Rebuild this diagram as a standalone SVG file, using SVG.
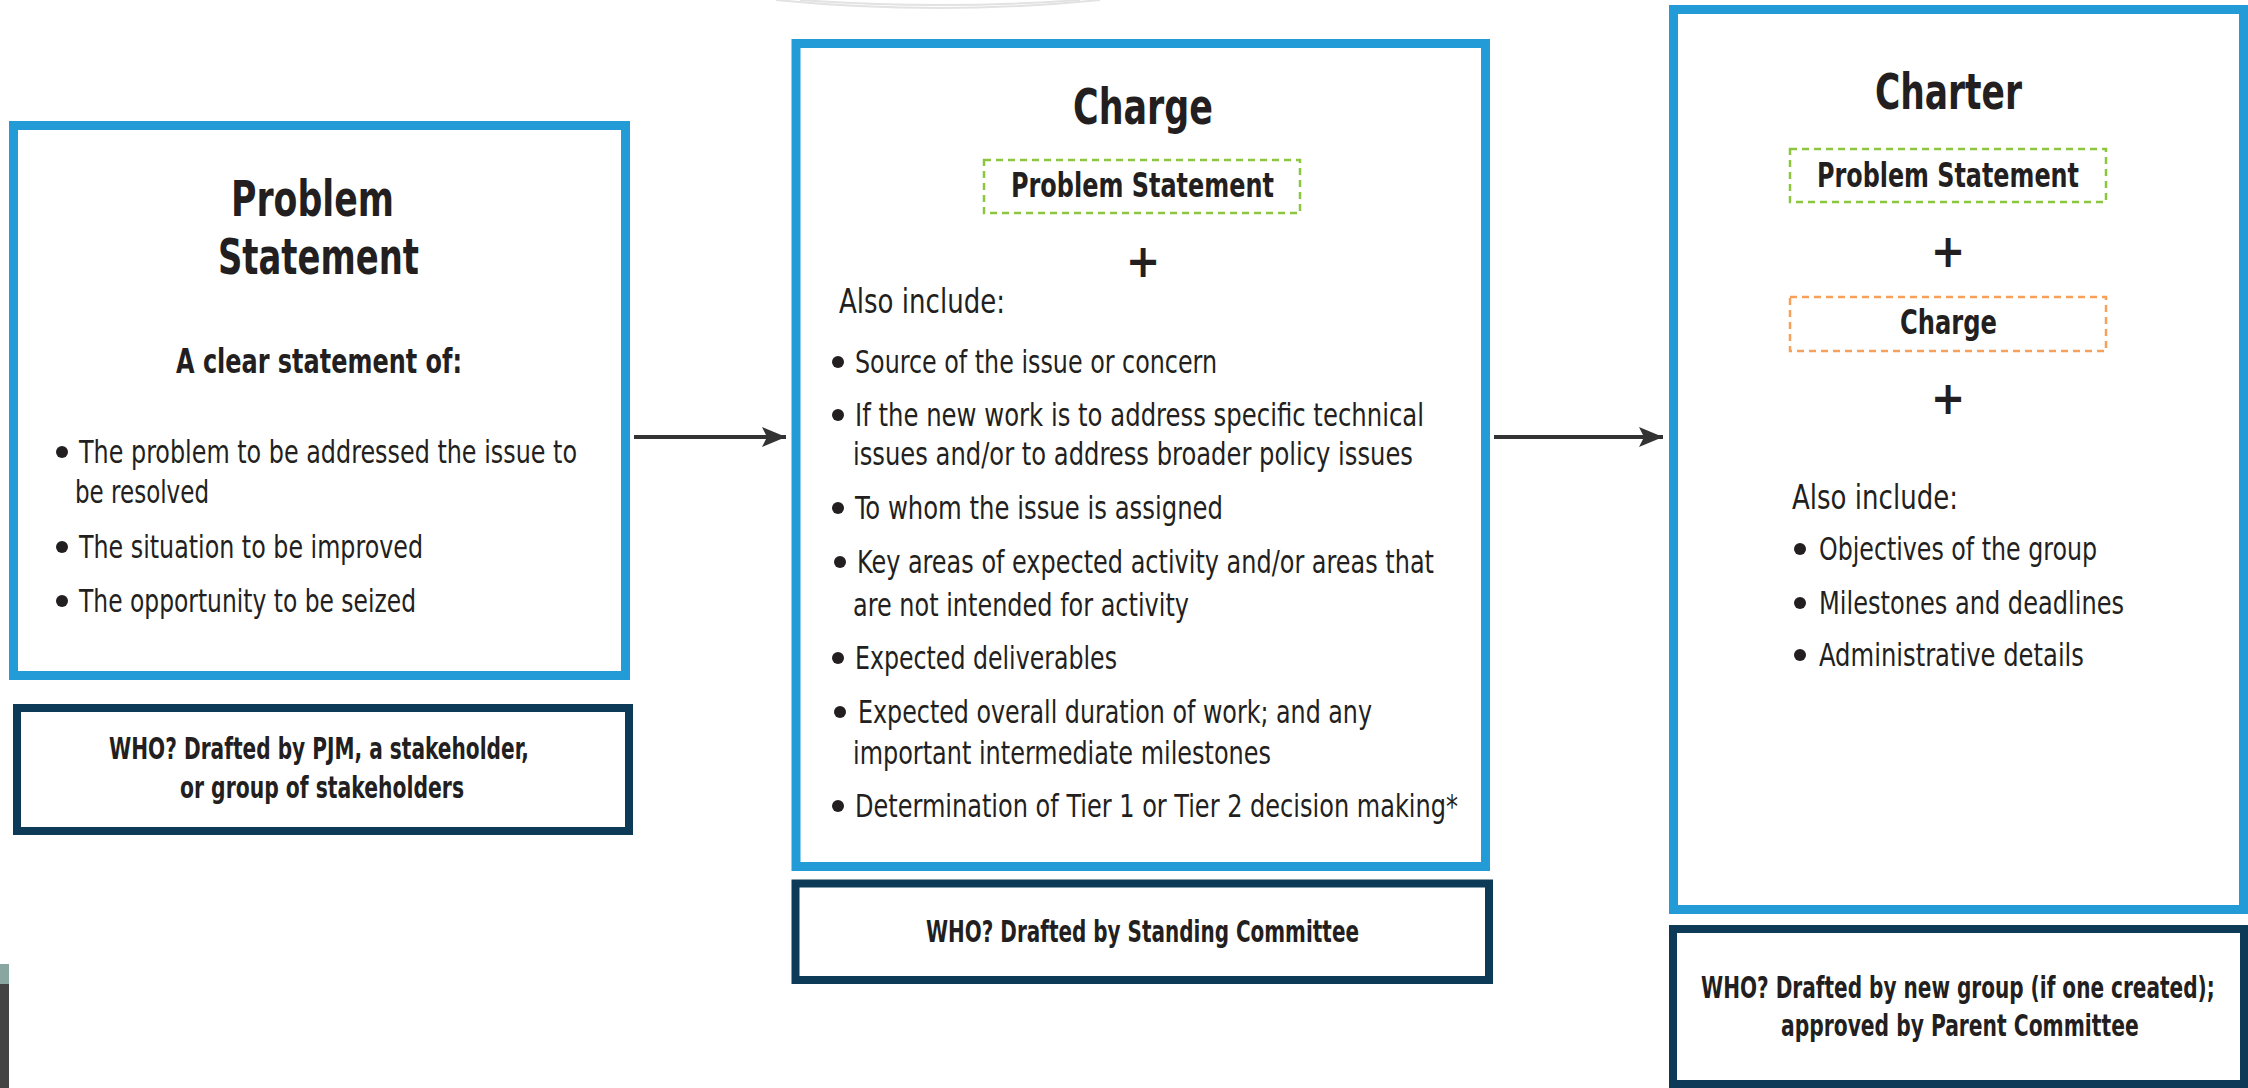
<svg xmlns="http://www.w3.org/2000/svg" width="2248" height="1088" viewBox="0 0 2248 1088">
<style>
.bg{fill:#ffffff}
.main{fill:#ffffff;stroke:#229bd7;stroke-width:9}
.who{fill:#ffffff;stroke:#0d3a57;stroke-width:8}
.dg{fill:none;stroke:#8cc63f;stroke-width:2.5;stroke-dasharray:7 5}
.do{fill:none;stroke:#f6a05a;stroke-width:2.5;stroke-dasharray:7 5}
text{font-family:"Liberation Sans Narrow","DejaVu Sans Condensed","Liberation Sans",sans-serif;fill:#231f20}
.t{font-size:50px;font-weight:bold}
.h{font-size:34px;font-weight:bold}
.b{font-size:32px}
.a{font-size:33px}
.w{font-size:30px;font-weight:bold}
.p{font-size:46px;font-weight:bold;text-anchor:middle}
.dot{fill:#231f20}
.conn{stroke:#333333;stroke-width:4;fill:none}
.faint{fill:none;stroke:#e2e2e2;stroke-width:2}
</style>
<defs>
<marker id="arr" markerUnits="userSpaceOnUse" markerWidth="26" markerHeight="22" refX="24" refY="10" orient="auto">
<path d="M0,0 L24,10 L0,20 L5,10 z" fill="#333333"/>
</marker>
</defs>
<rect class="bg" x="0" y="0" width="2248" height="1088"/>
<g id="decor">
<path class="faint" d="M776 0 Q 940 16 1100 0"/>
<path class="faint" d="M800 0 Q 940 10 1080 0"/>
<rect x="0" y="964" width="9" height="124" fill="#444444"/>
<rect x="0" y="964" width="9" height="20" fill="#8aa6a0"/>
</g>
<g id="connectors">
<line class="conn" x1="634" y1="437" x2="786" y2="437" marker-end="url(#arr)"/>
<line class="conn" x1="1494" y1="437" x2="1663" y2="437" marker-end="url(#arr)"/>
</g>
<g id="node-problem">
<rect class="main" x="13.5" y="125.5" width="612" height="550"/>
<text class="t" x="231" y="216" textLength="163" lengthAdjust="spacingAndGlyphs">Problem</text>
<text class="t" x="218" y="274" textLength="201" lengthAdjust="spacingAndGlyphs">Statement</text>
<text class="h" x="176" y="373" textLength="286" lengthAdjust="spacingAndGlyphs">A clear statement of:</text>
<circle class="dot" cx="62" cy="452" r="6"/>
<text class="b" x="79" y="463" textLength="498" lengthAdjust="spacingAndGlyphs">The problem to be addressed the issue to</text>
<text class="b" x="75" y="503" textLength="134" lengthAdjust="spacingAndGlyphs">be resolved</text>
<circle class="dot" cx="62" cy="547" r="6"/>
<text class="b" x="79" y="558" textLength="344" lengthAdjust="spacingAndGlyphs">The situation to be improved</text>
<circle class="dot" cx="62" cy="601" r="6"/>
<text class="b" x="79" y="612" textLength="337" lengthAdjust="spacingAndGlyphs">The opportunity to be seized</text>
</g>
<g id="node-problem-who">
<rect class="who" x="17" y="708" width="612" height="123"/>
<text class="w" x="109" y="759" textLength="420" lengthAdjust="spacingAndGlyphs">WHO? Drafted by PJM, a stakeholder,</text>
<text class="w" x="180" y="798" textLength="284" lengthAdjust="spacingAndGlyphs">or group of stakeholders</text>
</g>
<g id="node-charge">
<rect class="main" x="796" y="43.5" width="689.5" height="823"/>
<text class="t" x="1073" y="124" textLength="140" lengthAdjust="spacingAndGlyphs">Charge</text>
<rect class="dg" x="984" y="160" width="316" height="53"/>
<text class="h" x="1011" y="197" textLength="263" lengthAdjust="spacingAndGlyphs">Problem Statement</text>
<text class="p" x="1143" y="277">+</text>
<text class="a" x="839" y="313" textLength="166" lengthAdjust="spacingAndGlyphs">Also include:</text>
<circle class="dot" cx="838" cy="362" r="6"/>
<text class="b" x="855" y="373" textLength="362" lengthAdjust="spacingAndGlyphs">Source of the issue or concern</text>
<circle class="dot" cx="838" cy="415" r="6"/>
<text class="b" x="855" y="426" textLength="569" lengthAdjust="spacingAndGlyphs">If the new work is to address specific technical</text>
<text class="b" x="853" y="465" textLength="560" lengthAdjust="spacingAndGlyphs">issues and/or to address broader policy issues</text>
<circle class="dot" cx="838" cy="508" r="6"/>
<text class="b" x="855" y="519" textLength="368" lengthAdjust="spacingAndGlyphs">To whom the issue is assigned</text>
<circle class="dot" cx="840" cy="562" r="6"/>
<text class="b" x="857" y="573" textLength="577" lengthAdjust="spacingAndGlyphs">Key areas of expected activity and/or areas that</text>
<text class="b" x="853" y="616" textLength="336" lengthAdjust="spacingAndGlyphs">are not intended for activity</text>
<circle class="dot" cx="838" cy="658" r="6"/>
<text class="b" x="855" y="669" textLength="262" lengthAdjust="spacingAndGlyphs">Expected deliverables</text>
<circle class="dot" cx="840" cy="712" r="6"/>
<text class="b" x="858" y="723" textLength="514" lengthAdjust="spacingAndGlyphs">Expected overall duration of work; and any</text>
<text class="b" x="853" y="764" textLength="418" lengthAdjust="spacingAndGlyphs">important intermediate milestones</text>
<circle class="dot" cx="838" cy="806" r="6"/>
<text class="b" x="855" y="817" textLength="603" lengthAdjust="spacingAndGlyphs">Determination of Tier 1 or Tier 2 decision making*</text>
</g>
<g id="node-charge-who">
<rect class="who" x="795.5" y="883.5" width="693.5" height="96.5"/>
<text class="w" x="926" y="942" textLength="433" lengthAdjust="spacingAndGlyphs">WHO? Drafted by Standing Committee</text>
</g>
<g id="node-charter">
<rect class="main" x="1673.5" y="9.5" width="570" height="900"/>
<text class="t" x="1875" y="109" textLength="147" lengthAdjust="spacingAndGlyphs">Charter</text>
<rect class="dg" x="1790" y="149" width="316" height="53"/>
<text class="h" x="1817" y="187" textLength="262" lengthAdjust="spacingAndGlyphs">Problem Statement</text>
<text class="p" x="1948" y="267">+</text>
<rect class="do" x="1790" y="297" width="316" height="54"/>
<text class="h" x="1900" y="334" textLength="97" lengthAdjust="spacingAndGlyphs">Charge</text>
<text class="p" x="1948" y="414">+</text>
<text class="a" x="1792" y="509" textLength="166" lengthAdjust="spacingAndGlyphs">Also include:</text>
<circle class="dot" cx="1800" cy="549" r="6"/>
<text class="b" x="1819" y="560" textLength="278" lengthAdjust="spacingAndGlyphs">Objectives of the group</text>
<circle class="dot" cx="1800" cy="603" r="6"/>
<text class="b" x="1819" y="614" textLength="305" lengthAdjust="spacingAndGlyphs">Milestones and deadlines</text>
<circle class="dot" cx="1800" cy="655" r="6"/>
<text class="b" x="1819" y="666" textLength="265" lengthAdjust="spacingAndGlyphs">Administrative details</text>
</g>
<g id="node-charter-who">
<rect class="who" x="1673" y="929" width="571" height="155"/>
<text class="w" transform="translate(1701 998) scale(0.7 1)" x="0" y="0" textLength="734" lengthAdjust="spacingAndGlyphs">WHO? Drafted by new group (if one created);</text>
<text class="w" transform="translate(1781 1036) scale(0.7 1)" x="0" y="0" textLength="511" lengthAdjust="spacingAndGlyphs">approved by Parent Committee</text>
</g>
</svg>
